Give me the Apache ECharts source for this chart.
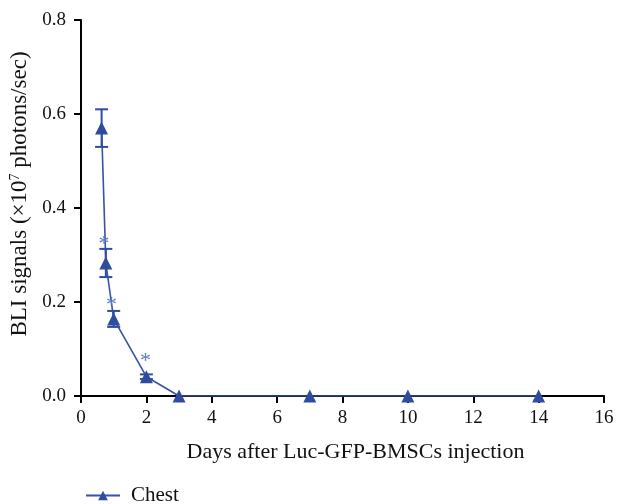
<!DOCTYPE html>
<html>
<head>
<meta charset="utf-8">
<script src="https://cdn.jsdelivr.net/npm/echarts@6/dist/echarts.min.js"></script>
<style>
  html, body { margin: 0; padding: 0; background: #fff; }
  #chart { width: 617px; height: 504px; }
</style>
</head>
<body>
<div id="chart"></div>
<script>
// days after injection
const days = [0.63, 0.76, 1, 2, 3, 7, 10, 14]
// chest BLI signal means and SD (x10^7 photons/sec)
const chestMean = [0.57, 0.283, 0.164, 0.041, 0, 0, 0, 0]
const chestErr = [0.04, 0.03, 0.017, 0.005, 0, 0, 0, 0]
// significance markers
const starDays = [0.7, 0.93, 1.97]
const starValues = [0.322, 0.193, 0.073]

const blue = '#2f4c9e'
const font = 'Liberation Serif'

const chart = echarts.init(document.getElementById('chart'))

const lineData = days.map((d, i) => [d, chestMean[i]])
const errData = days
  .map((d, i) => [d, chestMean[i] - chestErr[i], chestMean[i] + chestErr[i]])
  .filter(item => item[2] > item[1])
const starData = starDays.map((d, i) => [d, starValues[i]])

chart.setOption({
  animation: false,
  grid: { left: 81, right: 13, top: 20, bottom: 108 },
  legend: {
    left: 80,
    top: 480,
    itemWidth: 34,
    itemHeight: 12,
    data: ['Chest'],
    textStyle: { fontFamily: font, fontSize: 21, color: '#111', padding: [0, 0, 0, 6] }
  },
  xAxis: {
    type: 'value',
    min: 0,
    max: 16,
    interval: 2,
    name: 'Days after Luc-GFP-BMSCs injection',
    nameLocation: 'middle',
    nameGap: 45,
    nameTextStyle: { fontFamily: font, fontSize: 22, color: '#111', padding: [0, 0, 0, 26] },
    axisLine: { lineStyle: { color: '#000', width: 2 } },
    axisTick: { lineStyle: { color: '#000', width: 2 }, length: 7 },
    axisLabel: { fontFamily: font, fontSize: 19, color: '#111', margin: 13 },
    splitLine: { show: false }
  },
  yAxis: {
    type: 'value',
    min: 0,
    max: 0.8,
    interval: 0.2,
    name: '{a|BLI signals (×10}{s|7}{a| photons/sec)}',
    nameLocation: 'middle',
    nameGap: 46,
    nameTextStyle: {
      padding: [0, 0, 0, 28],
      rich: {
        a: { fontFamily: font, fontSize: 23, color: '#111' },
        s: { fontFamily: font, fontSize: 14, color: '#111', verticalAlign: 'top', padding: [0, 0, 9, 0] }
      }
    },
    axisLine: { show: true, lineStyle: { color: '#000', width: 2 } },
    axisTick: { show: true, lineStyle: { color: '#000', width: 2 }, length: 7 },
    axisLabel: {
      fontFamily: font, fontSize: 19, color: '#111', margin: 15,
      formatter: v => v.toFixed(1)
    },
    splitLine: { show: false }
  },
  series: [
    {
      name: 'Chest',
      type: 'line',
      data: lineData,
      symbol: 'triangle',
      symbolSize: 13,
      itemStyle: { color: blue },
      lineStyle: { color: '#3653a4', width: 1.6 },
      z: 3
    },
    {
      name: 'err',
      type: 'custom',
      data: errData,
      renderItem: (params, api) => {
        const x = api.value(0)
        const lo = api.coord([x, api.value(1)])
        const hi = api.coord([x, api.value(2)])
        const half = 6.5
        const style = { stroke: blue, lineWidth: 2 }
        return {
          type: 'group',
          children: [
            { type: 'line', shape: { x1: lo[0], y1: lo[1], x2: hi[0], y2: hi[1] }, style },
            { type: 'line', shape: { x1: lo[0] - half, y1: lo[1], x2: lo[0] + half, y2: lo[1] }, style },
            { type: 'line', shape: { x1: hi[0] - half, y1: hi[1], x2: hi[0] + half, y2: hi[1] }, style }
          ]
        }
      },
      z: 4
    },
    {
      name: 'star',
      type: 'custom',
      data: starData,
      renderItem: (params, api) => {
        const p = api.coord([api.value(0), api.value(1)])
        return {
          type: 'text',
          x: p[0],
          y: p[1],
          style: {
            text: '*',
            fill: '#5a78c4',
            font: '22px ' + font,
            align: 'center',
            verticalAlign: 'middle'
          }
        }
      },
      z: 5
    }
  ]
})
</script>
</body>
</html>
